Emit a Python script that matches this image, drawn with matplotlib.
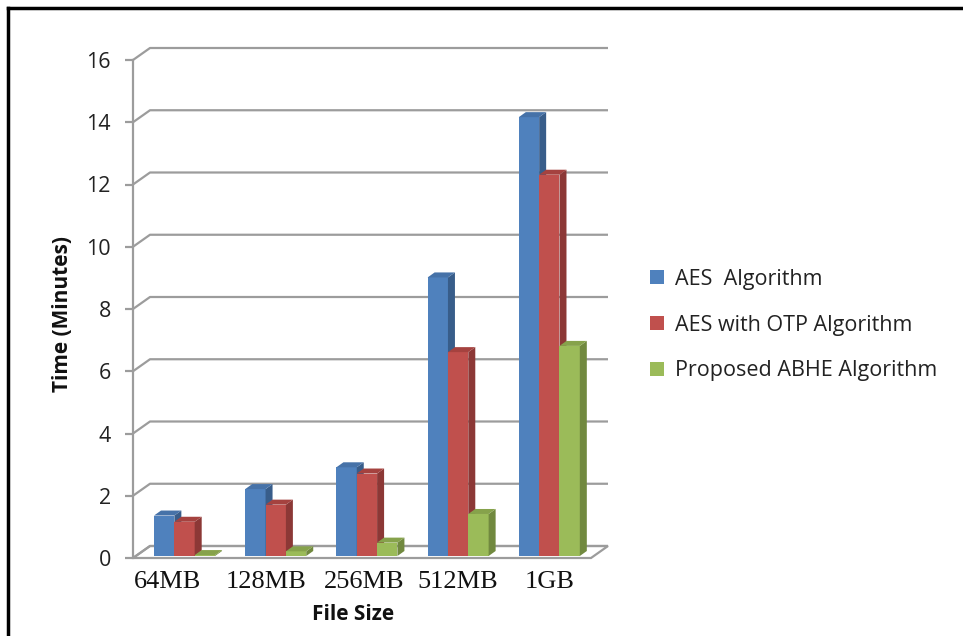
import numpy as np
import matplotlib.pyplot as plt
from matplotlib.patches import Polygon, Patch
from matplotlib.lines import Line2D
from matplotlib.transforms import offset_copy

# encryption time per file size (minutes)
sizes = ['64MB', '128MB', '256MB', '512MB', '1GB']
aes = [1.3, 2.15, 2.85, 8.95, 14.1]
aes_otp = [1.1, 1.65, 2.65, 6.55, 12.25]
abhe = [0.03, 0.15, 0.43, 1.35, 6.75]
series_names = ['AES  Algorithm', 'AES with OTP Algorithm', 'Proposed ABHE Algorithm']
yticks = [0, 2, 4, 6, 8, 10, 12, 14, 16]

front_c = ['#4F81BD', '#C0504D', '#9BBB59']
side_c = ['#385D8A', '#8C3836', '#71893F']
top_c = ['#4672A8', '#A5423F', '#86A24B']
grid_c = '#9C9C9C'

W, H = 963, 636
fig = plt.figure(figsize=(W / 100, H / 100), dpi=100)
ax = fig.add_axes([133 / W, 1 - 558 / H, (591 - 133) / W, (558 - 60) / H])
x0, x1 = -0.543, 4.479
ax.set_xlim(x0, x1)
ax.set_ylim(0, 16)

# pixel -> data scale
sx = (x1 - x0) / (591 - 133)
sy = 16 / (558 - 60)
wdx, wdy = 17 * sx, 12 * sy   # depth of the back wall
bdx, bdy = 7 * sx, 5 * sy     # depth of a bar

# floor
floor = Polygon([(x0, 0), (x1, 0), (x1 + wdx, wdy), (x0 + wdx, wdy)], closed=True,
                facecolor='white', edgecolor=grid_c, lw=1.6, clip_on=False, zorder=0)
ax.add_patch(floor)
# back-wall gridlines with the side-wall diagonals
for t in yticks:
    ax.plot([x0, x0 + wdx, x1 + wdx], [t, t + wdy, t + wdy], color=grid_c, lw=1.6,
            clip_on=False, zorder=0.5, solid_capstyle='butt')

# bars with side and top faces
bar_tr = offset_copy(ax.transData, fig=fig, x=2, y=2, units='dots')
w = 0.223
xs = np.arange(len(sizes))
data = [aes, aes_otp, abhe]
z = 2
for i in range(len(sizes)):
    for k, vals in enumerate(data):
        v = vals[i]
        xl = xs[i] + (k - 1.5) * w
        xr = xl + w
        ax.bar(xl, v, width=w, align='edge', color=front_c[k], transform=bar_tr,
               clip_on=False, zorder=z, lw=0)
        ax.add_patch(Polygon([(xr, 0), (xr + bdx, bdy), (xr + bdx, v + bdy), (xr, v)],
                             closed=True, facecolor=side_c[k], lw=0, transform=bar_tr,
                             clip_on=False, zorder=z))
        ax.add_patch(Polygon([(xl, v), (xr, v), (xr + bdx, v + bdy), (xl + bdx, v + bdy)],
                             closed=True, facecolor=top_c[k], lw=0, transform=bar_tr,
                             clip_on=False, zorder=z))
        z += 1

for s in ['top', 'right', 'bottom']:
    ax.spines[s].set_visible(False)
ax.spines['left'].set_color(grid_c)
ax.spines['left'].set_linewidth(1.6)

ax.set_yticks(yticks)
ax.set_yticklabels([str(t) for t in yticks], fontfamily='Open Sans', fontsize=15.5, color='#222222')
ax.tick_params(axis='y', direction='out', length=6, width=1.6, color=grid_c, pad=10)
ax.set_xticks(xs - np.array([0.17, 0.08, 0.01, -0.02, -0.03]))
ax.set_xticklabels(sizes, fontfamily='Liberation Serif', fontsize=19, color='#111111')
ax.tick_params(axis='x', length=0, pad=9)

fig.text(63 / W, 1 - 314 / H, 'Time (Minutes)', rotation=90, ha='center', va='center',
         fontfamily='Open Sans', fontweight='bold', fontsize=15, color='#111111')
fig.text(353 / W, 1 - 615 / H, 'File Size', ha='center', va='center',
         fontfamily='Open Sans', fontweight='bold', fontsize=15, color='#111111')

handles = [Patch(facecolor=c, edgecolor='none') for c in front_c]
fig.legend(handles, series_names, loc='center left', bbox_to_anchor=(650 / W, 1 - 325 / H),
           frameon=False, prop={'family': 'Open Sans', 'size': 15.5}, handlelength=0.65,
           handleheight=0.65, handletextpad=0.5, labelspacing=1.15, borderpad=0,
           borderaxespad=0, labelcolor='#222222')

# frame around the figure
fig.add_artist(Line2D([8 / W, 8 / W], [0, 1 - 8 / H], transform=fig.transFigure,
                      color='black', lw=2.5))
fig.add_artist(Line2D([8 / W, 1], [1 - 8 / H, 1 - 8 / H], transform=fig.transFigure,
                      color='black', lw=2.5))

fig.savefig('out.png', dpi=100)
